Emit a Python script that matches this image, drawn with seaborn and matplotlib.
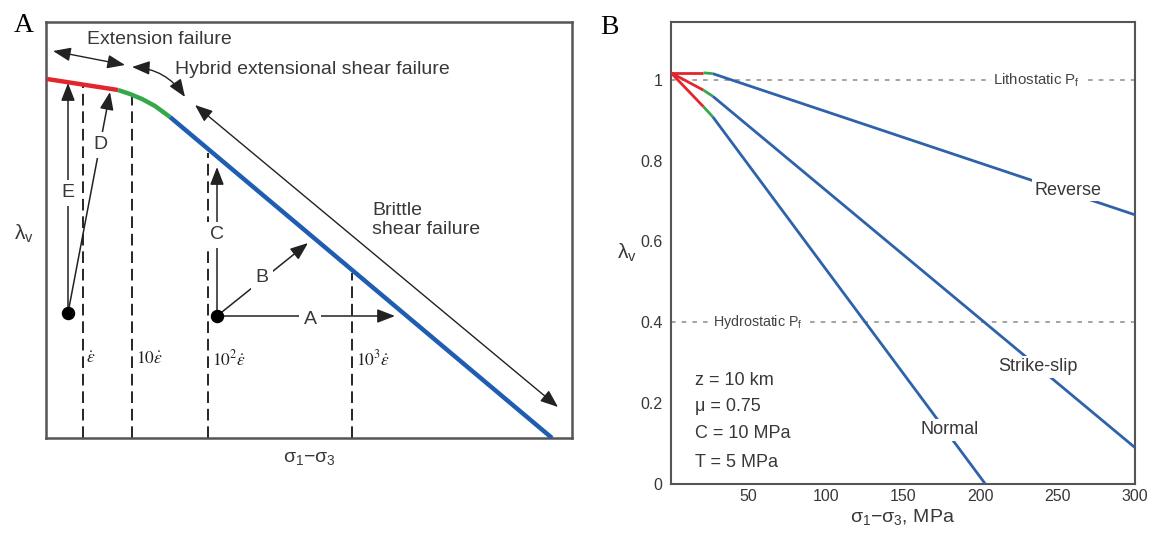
import numpy as np
import pandas as pd
import matplotlib
matplotlib.use('Agg')
import matplotlib.pyplot as plt
import seaborn as sns

# ---------------- Panel A (schematic, arbitrary units) ----------------
a_red_x = [1, 72]
a_red_y = [359, 348]
a_green_x = [72, 84, 96, 109, 124]
a_green_y = [348, 344, 339, 332, 321]
a_blue_x = [124, 506]
a_blue_y = [321, 0]

rate_x = [36.5, 85.7, 162.3, 306.3]
rate_top = [353, 343, 285, 165]
rate_labels = [r'$\dot{\varepsilon}$', r'$10\dot{\varepsilon}$',
               r'$10^{2}\dot{\varepsilon}$', r'$10^{3}\dot{\varepsilon}$']

dot_x = [22, 171]
dot_y = [125, 122]
# path arrows: (label, start, tip, label position)
path_labels = ['E', 'D', 'C', 'B', 'A']
path_start = [(22, 125), (22, 125), (171, 122), (171, 122), (171, 122)]
path_tip = [(22, 355), (64, 346), (171, 271), (262, 195), (349, 122)]
path_label_pos = [(22, 245), (54, 293), (171, 203), (216, 160), (264, 118)]

# ---------------- Panel B ----------------
b_x_reverse = [0, 21, 27, 300]
b_y_reverse = [1.018, 1.018, 1.016, 0.666]
b_x_strike = [0, 21, 27, 300]
b_y_strike = [1.018, 0.975, 0.960, 0.089]
b_x_normal = [0, 21, 27, 203]
b_y_normal = [1.018, 0.934, 0.909, 0.0]
b_xticks = [50, 100, 150, 200, 250, 300]
b_yticks = [0, 0.2, 0.4, 0.6, 0.8, 1.0]
b_yticklabels = ['0', '0.2', '0.4', '0.6', '0.8', '1']
params_text = ['z = 10 km', 'μ = 0.75', 'C = 10 MPa', 'T = 5 MPa']

sns.set_theme(style='white')
plt.rcParams['font.family'] = ['Liberation Sans', 'DejaVu Sans']
plt.rcParams['axes.edgecolor'] = '#555555'

TXT = '#383838'
RED = '#e3262b'
GREEN = '#35a84a'
BLUE_A = '#1f5db2'
BLUE_B = '#2e62aa'

fig = plt.figure(figsize=(11.62, 5.33), dpi=100)
W, H = 1162, 533
axA = fig.add_axes([46 / W, (H - 438) / H, (572 - 46) / W, (438 - 22) / H])
axB = fig.add_axes([671 / W, (H - 483.5) / H, (1135 - 671) / W, (483.5 - 22) / H])

# ---- Panel A ----
axA.set_xlim(0, 526)
axA.set_ylim(0, 416)
for xs, ys, c in [(a_red_x, a_red_y, RED), (a_green_x, a_green_y, GREEN), (a_blue_x, a_blue_y, BLUE_A)]:
    sns.lineplot(x=xs, y=ys, ax=axA, color=c, lw=3.2, sort=False, zorder=3,
                 solid_capstyle='butt')

for xv, top in zip(rate_x, rate_top):
    axA.plot([xv, xv], [0, top], color='black', lw=1.2, ls=(0, (7, 3.5)), zorder=2)
for xv, lab in zip(rate_x, rate_labels):
    axA.text(xv + 4, 79, lab, fontsize=12.5, color='#222222', ha='left', va='center',
             math_fontfamily='stix', family='Liberation Serif')

axA.scatter(dot_x, dot_y, s=75, color='black', zorder=4)
for lab, st, tp, lp in zip(path_labels, path_start, path_tip, path_label_pos):
    axA.annotate('', xy=tp, xytext=st,
                 arrowprops=dict(arrowstyle='-|>,head_length=0.9,head_width=0.35',
                                 color='#222222', lw=1.1, shrinkA=0, shrinkB=0),
                 zorder=3)
    axA.text(lp[0], lp[1], lab, fontsize=14, color=TXT, ha='center', va='center', zorder=5,
             bbox=dict(facecolor='white', edgecolor='none', pad=3))

# double arrows for failure modes
dbl = dict(arrowstyle='<|-|>,head_length=0.9,head_width=0.35', color='#222222', lw=1.0,
           shrinkA=0, shrinkB=0)
axA.annotate('', xy=(79, 373), xytext=(7, 387), arrowprops=dbl)
axA.annotate('', xy=(139, 341), xytext=(86, 371),
             arrowprops=dict(dbl, connectionstyle='arc3,rad=-0.25'))
axA.annotate('', xy=(512, 31), xytext=(149, 333), arrowprops=dbl)
axA.text(41, 398, 'Extension failure', fontsize=14, color=TXT, ha='left', va='center')
axA.text(129, 368, 'Hybrid extensional shear failure', fontsize=14, color=TXT,
         ha='left', va='center')
axA.text(326, 218, 'Brittle\nshear failure', fontsize=14, color=TXT, ha='left',
         va='center', linespacing=1.1)

axA.set_xticks([])
axA.set_yticks([])
for s in axA.spines.values():
    s.set_linewidth(1.8)
    s.set_color('#555555')
axA.set_xlabel(r'$\mathregular{σ_1}$−$\mathregular{σ_3}$', fontsize=14, color=TXT)
axA.xaxis.set_label_coords(0.5, -0.03)
axA.set_ylabel(r'$\mathregular{λ_v}$', fontsize=15, color=TXT, rotation=0)
axA.yaxis.set_label_coords(-0.042, 0.465)

fig.text(24 / W, 1 - 25 / H, 'A', fontsize=20, family='Liberation Serif',
         ha='center', va='center', color='black')
fig.text(609 / W, 1 - 27 / H, 'B', fontsize=20, family='Liberation Serif',
         ha='center', va='center', color='black')

# ---- Panel B ----
axB.set_xlim(0, 300)
axB.set_ylim(0, 1.144)
seg_cols = [RED, GREEN, BLUE_B]
for xs, ys in [(b_x_reverse, b_y_reverse), (b_x_strike, b_y_strike), (b_x_normal, b_y_normal)]:
    for i in range(3):
        sns.lineplot(x=xs[i:i + 2], y=ys[i:i + 2], ax=axB, color=seg_cols[i], lw=2.0,
                     sort=False, zorder=3, solid_capstyle='butt')

for yv in [1.0, 0.4]:
    axB.axhline(yv, color='#8a8a8a', lw=1.1, ls=(0, (3, 4)), zorder=1)
axB.text(236.5, 1.0, r'Lithostatic P$_\mathregular{f}$', fontsize=10.8, color='#444444',
         ha='center', va='center', zorder=5,
         bbox=dict(facecolor='white', edgecolor='none', pad=1))
axB.text(56, 0.4, r'Hydrostatic P$_\mathregular{f}$', fontsize=10.3, color='#444444',
         ha='center', va='center', zorder=5,
         bbox=dict(facecolor='white', edgecolor='none', pad=1))

for lab, xv, yv in [('Reverse', 256.5, 0.727), ('Strike-slip', 237, 0.289), ('Normal', 180, 0.133)]:
    axB.text(xv, yv, lab, fontsize=13, color=TXT, ha='center', va='center', zorder=5,
             bbox=dict(facecolor='white', edgecolor='none', pad=2))

for txt, yv in zip(params_text, [0.256, 0.19, 0.123, 0.053]):
    axB.text(15.5, yv, txt, fontsize=13, color=TXT, ha='left', va='center')

axB.set_xticks(b_xticks)
axB.set_xticklabels([str(v) for v in b_xticks])
axB.set_yticks(b_yticks)
axB.set_yticklabels(b_yticklabels)
axB.tick_params(axis='both', direction='in', length=5, width=1.2, color='#555555',
                labelsize=11.5, labelcolor=TXT)
axB.tick_params(axis='y', pad=6)
axB.tick_params(axis='x', pad=4)
for s in axB.spines.values():
    s.set_linewidth(1.5)
    s.set_color('#555555')
axB.set_xlabel(r'$\mathregular{σ_1}$−$\mathregular{σ_3}$, MPa', fontsize=14, color=TXT)
axB.xaxis.set_label_coords(0.5, -0.052)
axB.set_ylabel(r'$\mathregular{λ_v}$', fontsize=15, color=TXT, rotation=0)
axB.yaxis.set_label_coords(-0.095, 0.475)

fig.savefig('out.png', dpi=100)
